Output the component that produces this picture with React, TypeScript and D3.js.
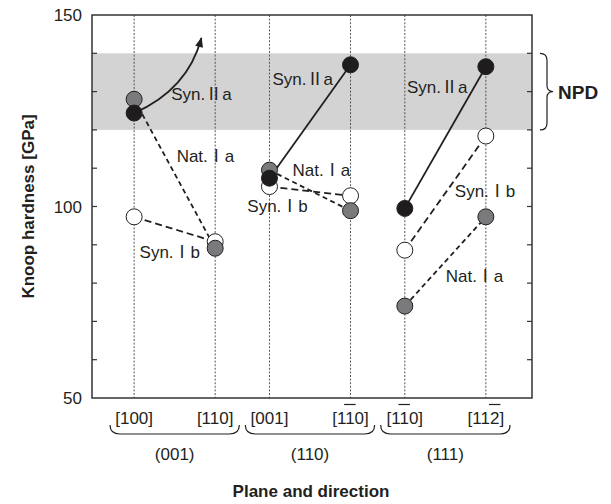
import React, { useEffect, useRef } from 'react';
import * as d3 from 'd3';

// planes and the two directions measured on each
const planes = ['(001)', '(110)', '(111)'];
const directions = [
  ['[100]', '[110]'],
  ['[001]', '[1-10]'], // "-" puts a bar over the next digit
  ['[1-10]', '[11-2]'],
];

// Knoop hardness [GPa], one value per direction, planes in order
const synIIa = [124.4, null, 107.4, 137.0, 99.5, 136.5];
const natIa = [128.0, 89.1, 109.5, 98.9, 74.0, 97.3];
const synIb = [97.3, 90.8, 105.2, 102.8, 88.6, 118.4];

const synIIaBeyond = 144; // (001)[110] of Syn.IIa runs off the top: drawn as an arrow
const npdRange = [120, 140];
const yDomain = [50, 150];
const yLabels = [50, 100, 150];

const FONT = '"Liberation Sans", Arial, "Noto Sans CJK JP", sans-serif';
const INK = '#231f20';

const App: React.FC = () => {
  const svgRef = useRef<SVGSVGElement>(null);

  useEffect(() => {
    if (!svgRef.current) return;
    d3.select(svgRef.current).selectAll('*').remove();

    const W = 611;
    const H = 504;
    const margin = { top: 15, right: 79, bottom: 106, left: 92 };
    const width = W - margin.left - margin.right;
    const height = H - margin.top - margin.bottom;

    const root = d3.select(svgRef.current).attr('width', W).attr('height', H);
    const svg = root.append('g').attr('transform', `translate(${margin.left},${margin.top})`);

    const y = d3.scaleLinear().domain(yDomain).range([height, 0]);
    const xPlane = d3.scaleBand<string>().domain(planes).range([15, 421]);
    const xDir = d3
      .scalePoint<number>()
      .domain([0, 1])
      .range([0, xPlane.bandwidth()])
      .padding(0.335);
    const xAt = (i: number) => (xPlane(planes[Math.floor(i / 2)]) as number) + (xDir(i % 2) as number);
    // x between the two directions of a plane, f = 0..1
    const xBetween = (g: number, f: number) => xAt(g * 2) + f * (xAt(g * 2 + 1) - xAt(g * 2));

    // NPD band
    svg
      .append('rect')
      .attr('x', 0)
      .attr('width', width)
      .attr('y', y(npdRange[1]))
      .attr('height', y(npdRange[0]) - y(npdRange[1]))
      .attr('fill', '#d3d3d4');

    // dotted guide lines
    d3.range(6).forEach((i) => {
      svg
        .append('line')
        .attr('x1', xAt(i))
        .attr('x2', xAt(i))
        .attr('y1', 0)
        .attr('y2', height)
        .attr('stroke', '#444')
        .attr('stroke-width', 0.9)
        .attr('stroke-dasharray', '2,1.6');
    });

    // frame and ticks
    svg
      .append('rect')
      .attr('width', width)
      .attr('height', height)
      .attr('fill', 'none')
      .attr('stroke', '#333')
      .attr('stroke-width', 1.5);

    d3.range(60, 150, 10).forEach((v) => {
      svg.append('line').attr('x1', 0).attr('x2', 5).attr('y1', y(v)).attr('y2', y(v)).attr('stroke', '#333').attr('stroke-width', 1.2);
      svg
        .append('line')
        .attr('x1', width)
        .attr('x2', width - 5)
        .attr('y1', y(v))
        .attr('y2', y(v))
        .attr('stroke', '#333')
        .attr('stroke-width', 1.2);
    });

    yLabels.forEach((v) => {
      svg
        .append('text')
        .attr('x', -10)
        .attr('y', y(v) + 6)
        .attr('text-anchor', 'end')
        .style('font-family', FONT)
        .style('font-size', '17px')
        .style('fill', INK)
        .text(v);
    });

    // Syn.IIa arrow for (001)[110]
    root
      .append('defs')
      .append('marker')
      .attr('id', 'arrowhead')
      .attr('viewBox', '0 0 10 8')
      .attr('refX', 9)
      .attr('refY', 4)
      .attr('markerWidth', 12)
      .attr('markerHeight', 8)
      .attr('markerUnits', 'userSpaceOnUse')
      .attr('orient', 'auto')
      .append('path')
      .attr('d', 'M0,0 L10,4 L0,8 Z')
      .attr('fill', INK);

    const arrowPath = d3.path();
    arrowPath.moveTo(xAt(0), y(synIIa[0] as number));
    arrowPath.quadraticCurveTo(xBetween(0, 0.66), y(130.5), xBetween(0, 0.83), y(synIIaBeyond));
    svg
      .append('path')
      .attr('d', arrowPath.toString())
      .attr('fill', 'none')
      .attr('stroke', INK)
      .attr('stroke-width', 1.8)
      .attr('marker-end', 'url(#arrowhead)');

    // series: lines per plane, then markers
    const series = [
      { name: 'Syn.Ⅰb', values: synIb, fill: '#ffffff', dash: '7,4' },
      { name: 'Nat.Ⅰa', values: natIa, fill: '#7a7a7c', dash: '5,3.5' },
      { name: 'Syn.Ⅱa', values: synIIa, fill: '#1e1c1d', dash: null },
    ];

    const seg = d3
      .line<[number, number]>()
      .x((d) => xAt(d[0]))
      .y((d) => y(d[1]));

    series.forEach((s) => {
      planes.forEach((_p, g) => {
        const a = s.values[g * 2];
        const b = s.values[g * 2 + 1];
        if (a == null || b == null) return;
        svg
          .append('path')
          .attr('d', seg([[g * 2, a], [g * 2 + 1, b]]))
          .attr('fill', 'none')
          .attr('stroke', INK)
          .attr('stroke-width', 1.8)
          .attr('stroke-dasharray', s.dash ?? null);
      });
    });

    series.forEach((s) => {
      svg
        .selectAll(null)
        .data(s.values.map((v, i) => ({ v, i })).filter((d) => d.v != null))
        .enter()
        .append('circle')
        .attr('cx', (d) => xAt(d.i))
        .attr('cy', (d) => y(d.v as number))
        .attr('r', 8)
        .attr('fill', s.fill)
        .attr('stroke', INK)
        .attr('stroke-width', 1);
    });

    // series labels: plane, fraction between its directions, value at baseline
    const labels: [string, number, number, number][] = [
      ['Syn.Ⅱa', 0, 0.83, 127.8],
      ['Nat.Ⅰa', 0, 0.88, 111.6],
      ['Syn.Ⅰb', 0, 0.44, 86.6],
      ['Syn.Ⅱa', 1, 0.41, 131.7],
      ['Nat.Ⅰa', 1, 0.64, 108.0],
      ['Syn.Ⅰb', 1, 0.1, 98.6],
      ['Syn.Ⅱa', 2, 0.4, 129.6],
      ['Syn.Ⅰb', 2, 0.99, 102.5],
      ['Nat.Ⅰa', 2, 0.86, 80.3],
    ];
    labels.forEach(([t, g, f, v]) => {
      svg
        .append('text')
        .attr('x', xBetween(g, f))
        .attr('y', y(v))
        .attr('text-anchor', 'middle')
        .style('font-family', FONT)
        .style('font-size', '17px')
        .style('fill', INK)
        .text(t);
    });

    // direction tick labels, with overbars
    directions.flat().forEach((lab, i) => {
      const chars: string[] = [];
      const bars: number[] = [];
      for (let k = 0; k < lab.length; k++) {
        if (lab[k] === '-') {
          bars.push(chars.length);
          continue;
        }
        chars.push(lab[k]);
      }
      const txt = svg
        .append('text')
        .attr('x', xAt(i))
        .attr('y', height + 26)
        .attr('text-anchor', 'middle')
        .style('font-family', FONT)
        .style('font-size', '17px')
        .style('fill', INK)
        .text(chars.join(''));
      const node = txt.node() as SVGTextElement;
      bars.forEach((c) => {
        const ext = node.getExtentOfChar(c);
        svg
          .append('line')
          .attr('x1', ext.x - 1)
          .attr('x2', ext.x + ext.width + 1)
          .attr('y1', height + 6.5)
          .attr('y2', height + 6.5)
          .attr('stroke', INK)
          .attr('stroke-width', 1.2);
      });
    });

    // plane braces and labels
    planes.forEach((p) => {
      const x0 = (xPlane(p) as number) + 3;
      const x1 = (xPlane(p) as number) + xPlane.bandwidth() - 3;
      const top = height + 27;
      const bot = height + 36;
      svg
        .append('path')
        .attr(
          'd',
          `M${x0},${top} Q${x0},${bot} ${x0 + 10},${bot} L${x1 - 10},${bot} Q${x1},${bot} ${x1},${top}`
        )
        .attr('fill', 'none')
        .attr('stroke', INK)
        .attr('stroke-width', 1.2);
      svg
        .append('text')
        .attr('x', (xPlane(p) as number) + xPlane.bandwidth() / 2)
        .attr('y', height + 62)
        .attr('text-anchor', 'middle')
        .style('font-family', FONT)
        .style('font-size', '17px')
        .style('fill', INK)
        .text(p);
    });

    // NPD brace
    const bx = width + 8;
    const yt = y(npdRange[1]);
    const yb = y(npdRange[0]);
    const ym = (yt + yb) / 2;
    svg
      .append('path')
      .attr(
        'd',
        `M${bx},${yt} Q${bx + 7},${yt} ${bx + 7},${yt + 7} L${bx + 7},${ym - 6} Q${bx + 7},${ym} ${bx + 13},${ym} ` +
          `Q${bx + 7},${ym} ${bx + 7},${ym + 6} L${bx + 7},${yb - 7} Q${bx + 7},${yb} ${bx},${yb}`
      )
      .attr('fill', 'none')
      .attr('stroke', INK)
      .attr('stroke-width', 1.2);
    svg
      .append('text')
      .attr('x', bx + 18)
      .attr('y', ym + 7)
      .style('font-family', FONT)
      .style('font-size', '19px')
      .style('font-weight', 'bold')
      .style('fill', INK)
      .text('NPD');

    // axis titles
    svg
      .append('text')
      .attr('transform', `translate(${-58},${height / 2}) rotate(-90)`)
      .attr('text-anchor', 'middle')
      .style('font-family', FONT)
      .style('font-size', '17px')
      .style('font-weight', 'bold')
      .style('fill', INK)
      .text('Knoop hardness [GPa]');

    svg
      .append('text')
      .attr('x', 311 - margin.left)
      .attr('y', 497 - margin.top)
      .attr('text-anchor', 'middle')
      .style('font-family', FONT)
      .style('font-size', '17px')
      .style('font-weight', 'bold')
      .style('fill', INK)
      .text('Plane and direction');
  }, []);

  return <svg ref={svgRef} style={{ position: 'absolute', left: 0, top: 0, background: '#fff' }} />;
};

export default App;
